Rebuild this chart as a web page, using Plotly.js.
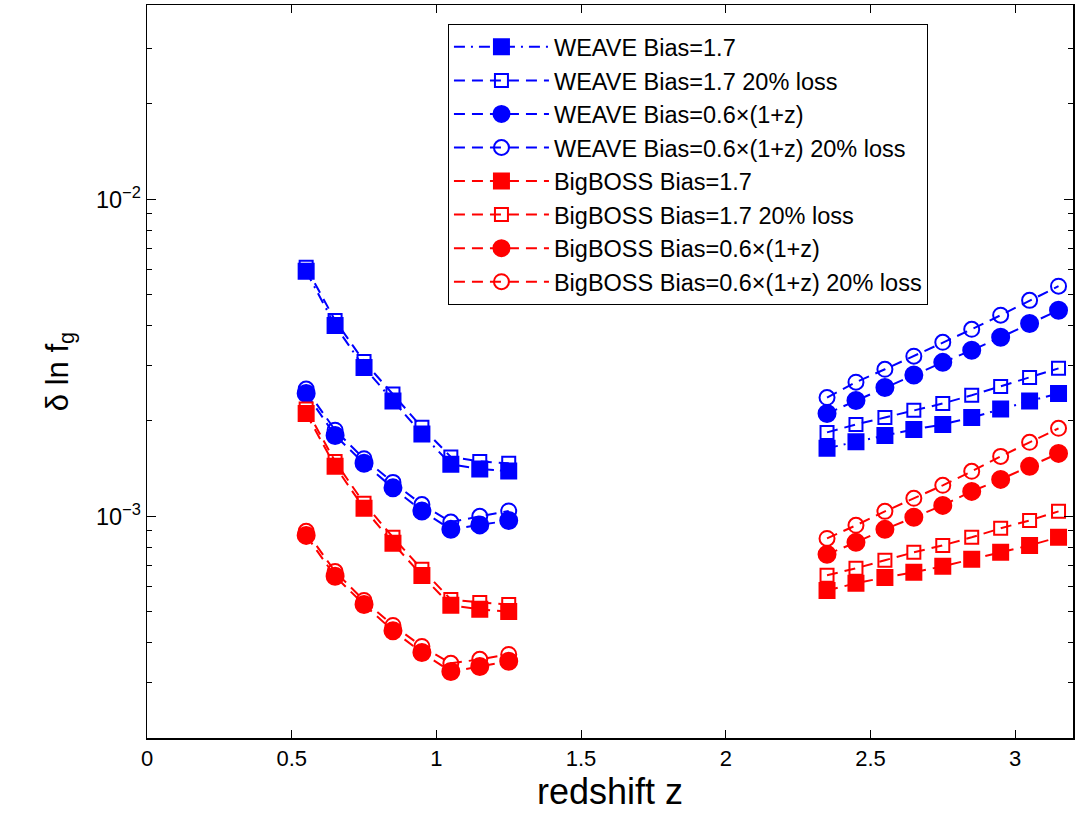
<!DOCTYPE html>
<html>
<head>
<meta charset="utf-8">
<script src="https://cdn.plot.ly/plotly-3.0.1.min.js"></script>
<style>
  html, body { margin: 0; padding: 0; background: #fff; }
  #chart { width: 1076px; height: 813px; }
</style>
</head>
<body>
<div id="chart"></div>
<script>
// Redshift bins of the two samples
const zLow  = [0.55, 0.65, 0.75, 0.85, 0.95, 1.05, 1.15, 1.25];
const zHigh = [2.35, 2.45, 2.55, 2.65, 2.75, 2.85, 2.95, 3.05, 3.15];

// Forecast error on ln f_g, low-redshift bins
const weaveB17Low      = [5.93e-3, 4.00e-3, 2.95e-3, 2.31e-3, 1.82e-3, 1.46e-3, 1.41e-3, 1.39e-3];
const weaveB17LossLow  = [6.10e-3, 4.15e-3, 3.08e-3, 2.43e-3, 1.91e-3, 1.54e-3, 1.49e-3, 1.47e-3];
const weaveBzLow       = [2.44e-3, 1.80e-3, 1.47e-3, 1.23e-3, 1.04e-3, 9.1e-4, 9.4e-4, 9.7e-4];
const weaveBzLossLow   = [2.52e-3, 1.87e-3, 1.52e-3, 1.28e-3, 1.09e-3, 9.6e-4, 1.00e-3, 1.04e-3];
const bbB17Low         = [2.11e-3, 1.44e-3, 1.06e-3, 8.22e-4, 6.51e-4, 5.24e-4, 5.09e-4, 5.01e-4];
const bbB17LossLow     = [2.18e-3, 1.49e-3, 1.10e-3, 8.59e-4, 6.81e-4, 5.47e-4, 5.35e-4, 5.27e-4];
const bbBzLow          = [8.71e-4, 6.47e-4, 5.27e-4, 4.36e-4, 3.72e-4, 3.24e-4, 3.36e-4, 3.49e-4];
const bbBzLossLow      = [8.97e-4, 6.70e-4, 5.43e-4, 4.53e-4, 3.89e-4, 3.44e-4, 3.54e-4, 3.67e-4];

// Forecast error on ln f_g, high-redshift bins
const weaveB17High     = [1.64e-3, 1.72e-3, 1.80e-3, 1.88e-3, 1.95e-3, 2.05e-3, 2.18e-3, 2.31e-3, 2.44e-3];
const weaveB17LossHigh = [1.84e-3, 1.95e-3, 2.05e-3, 2.16e-3, 2.27e-3, 2.41e-3, 2.57e-3, 2.74e-3, 2.93e-3];
const weaveBzHigh      = [2.11e-3, 2.32e-3, 2.55e-3, 2.79e-3, 3.06e-3, 3.34e-3, 3.67e-3, 4.06e-3, 4.47e-3];
const weaveBzLossHigh  = [2.37e-3, 2.65e-3, 2.91e-3, 3.20e-3, 3.54e-3, 3.89e-3, 4.31e-3, 4.80e-3, 5.32e-3];
const bbB17High        = [5.84e-4, 6.15e-4, 6.42e-4, 6.66e-4, 6.96e-4, 7.32e-4, 7.70e-4, 8.10e-4, 8.59e-4];
const bbB17LossHigh    = [6.52e-4, 6.86e-4, 7.27e-4, 7.70e-4, 8.10e-4, 8.59e-4, 9.17e-4, 9.71e-4, 1.037e-3];
const bbBzHigh         = [7.59e-4, 8.28e-4, 9.10e-4, 9.93e-4, 1.083e-3, 1.199e-3, 1.308e-3, 1.438e-3, 1.580e-3];
const bbBzLossHigh     = [8.52e-4, 9.37e-4, 1.037e-3, 1.140e-3, 1.253e-3, 1.387e-3, 1.546e-3, 1.712e-3, 1.895e-3];

const seriesNames = [
  'WEAVE Bias=1.7',
  'WEAVE Bias=1.7 20% loss',
  'WEAVE Bias=0.6×(1+z)',
  'WEAVE Bias=0.6×(1+z) 20% loss',
  'BigBOSS Bias=1.7',
  'BigBOSS Bias=1.7 20% loss',
  'BigBOSS Bias=0.6×(1+z)',
  'BigBOSS Bias=0.6×(1+z) 20% loss'
];

// Tick positions and labels
const xTicks = [0, 0.5, 1, 1.5, 2, 2.5, 3];
const xTickText = ['0', '0.5', '1', '1.5', '2', '2.5', '3'];
const yTicks = [1e-3, 1e-2];
const yTickText = ['10<sup>−3</sup>', '10<sup>−2</sup>'];
const yMinorTicks = [3e-4, 4e-4, 5e-4, 6e-4, 7e-4, 8e-4, 9e-4,
                     2e-3, 3e-3, 4e-3, 5e-3, 6e-3, 7e-3, 8e-3, 9e-3,
                     2e-2, 3e-2];

const BLUE = 'rgb(0,0,255)';
const RED = 'rgb(255,0,0)';
const DASH = '11px,7px';
const DASHDOT = '11px,6px,2px,6px';

const series = [
  {name: seriesNames[0], low: weaveB17Low,     high: weaveB17High,     color: BLUE, symbol: 'square',      size: 15, dash: DASHDOT},
  {name: seriesNames[1], low: weaveB17LossLow, high: weaveB17LossHigh, color: BLUE, symbol: 'square-open', size: 13, dash: DASH},
  {name: seriesNames[2], low: weaveBzLow,      high: weaveBzHigh,      color: BLUE, symbol: 'circle',      size: 17, dash: DASH},
  {name: seriesNames[3], low: weaveBzLossLow,  high: weaveBzLossHigh,  color: BLUE, symbol: 'circle-open', size: 15, dash: DASH},
  {name: seriesNames[4], low: bbB17Low,        high: bbB17High,        color: RED,  symbol: 'square',      size: 15, dash: DASH},
  {name: seriesNames[5], low: bbB17LossLow,    high: bbB17LossHigh,    color: RED,  symbol: 'square-open', size: 13, dash: DASH},
  {name: seriesNames[6], low: bbBzLow,         high: bbBzHigh,         color: RED,  symbol: 'circle',      size: 17, dash: DASH},
  {name: seriesNames[7], low: bbBzLossLow,     high: bbBzLossHigh,     color: RED,  symbol: 'circle-open', size: 15, dash: DASH}
];

const traces = [];
series.forEach((s, i) => {
  const common = {
    type: 'scatter',
    mode: 'lines+markers',
    legendgroup: 'g' + i,
    line: {color: s.color, width: 2, dash: s.dash},
    marker: {symbol: s.symbol, size: s.size, color: s.color, line: {color: s.color, width: 2}},
    hoverinfo: 'x+y+name'
  };
  traces.push(Object.assign({}, common, {x: zLow, y: s.low, name: s.name, showlegend: true}));
  traces.push(Object.assign({}, common, {x: zHigh, y: s.high, name: s.name, showlegend: false}));
});
// empty trace that carries the overlaid minor-tick axis
traces.push({type: 'scatter', x: [], y: [], yaxis: 'y2', showlegend: false, hoverinfo: 'skip'});

const FONT = 'Liberation Sans, Arial, Helvetica, sans-serif';
const yRange = [Math.log10(2e-4), Math.log10(4.1e-2)];

const layout = {
  width: 1076,
  height: 813,
  margin: {l: 147, r: 3, t: 5, b: 75},
  paper_bgcolor: '#fff',
  plot_bgcolor: '#fff',
  font: {family: FONT, color: '#000', size: 22},
  showlegend: true,
  legend: {
    x: 0.325, y: 0.974, xanchor: 'left', yanchor: 'top',
    bgcolor: '#fff', bordercolor: '#000', borderwidth: 1,
    font: {family: FONT, size: 23.5, color: '#000'},
    traceorder: 'grouped', tracegroupgap: 0,
    itemwidth: 95, itemsizing: 'trace'
  },
  xaxis: {
    range: [0, 3.2],
    tickmode: 'array', tickvals: xTicks, ticktext: xTickText,
    ticks: 'inside', ticklen: 8, tickwidth: 1, tickcolor: '#000',
    showline: true, linecolor: '#000', linewidth: 1.5, mirror: 'ticks',
    showgrid: false, zeroline: false,
    tickfont: {family: FONT, size: 22, color: '#000'},
    title: {text: 'redshift z', font: {family: FONT, size: 36, color: '#000'}, standoff: 8}
  },
  yaxis: {
    type: 'log',
    range: yRange,
    tickmode: 'array', tickvals: yTicks, ticktext: yTickText,
    ticks: 'inside', ticklen: 9, tickwidth: 1, tickcolor: '#000',
    showline: true, linecolor: '#000', linewidth: 1.5, mirror: 'ticks',
    showgrid: false, zeroline: false,
    tickfont: {family: FONT, size: 23.5, color: '#000'},
    title: {text: 'δ ln f<sub>g</sub>', font: {family: FONT, size: 31, color: '#000'}, standoff: 18}
  },
  yaxis2: {
    type: 'log',
    overlaying: 'y', anchor: 'x', side: 'left',
    range: yRange,
    tickmode: 'array', tickvals: yMinorTicks,
    ticks: 'inside', ticklen: 5, tickwidth: 1, tickcolor: '#000',
    showticklabels: false,
    showline: true, linecolor: '#000', linewidth: 1.5, mirror: 'ticks',
    showgrid: false, zeroline: false
  }
};

Plotly.newPlot('chart', traces, layout, {displayModeBar: false, staticPlot: true});
</script>
</body>
</html>
